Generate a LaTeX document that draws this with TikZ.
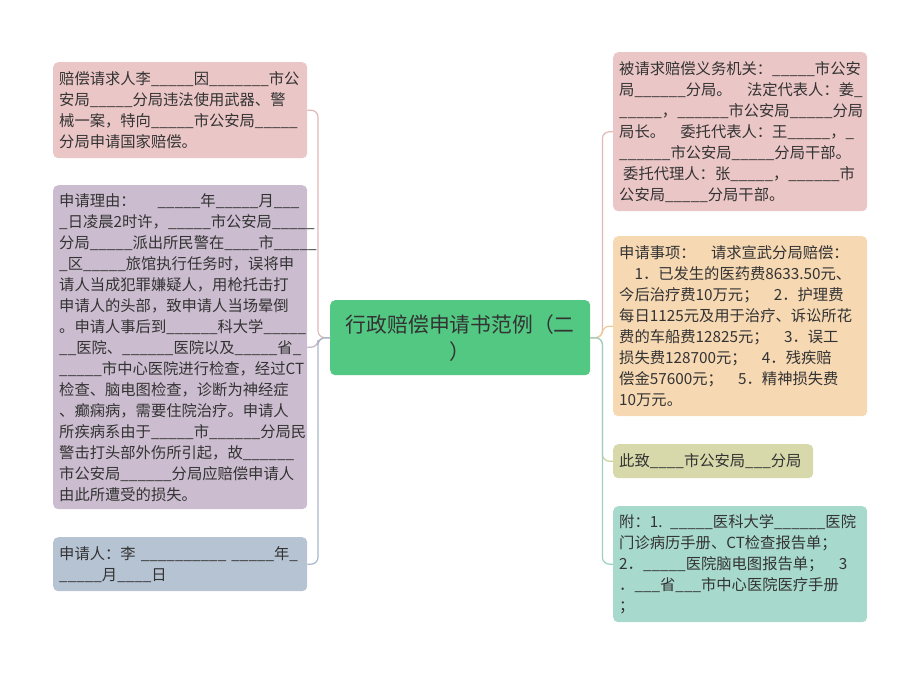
\documentclass[tikz,border=0pt]{standalone}
\usepackage{fontspec}
\setmainfont{Noto Sans CJK SC}
\usetikzlibrary{positioning}
\definecolor{txt}{HTML}{333333}
\definecolor{rootfill}{HTML}{52C882}
\definecolor{pinkfill}{HTML}{EBC6C6}
\definecolor{pinkline}{HTML}{E3B8B8}
\definecolor{lilacfill}{HTML}{CBBDCF}
\definecolor{lilacline}{HTML}{C2B3C6}
\definecolor{greyfill}{HTML}{B5C3D3}
\definecolor{greyline}{HTML}{A9B8C9}
\definecolor{orangefill}{HTML}{F6D8B3}
\definecolor{orangeline}{HTML}{EFCB9C}
\definecolor{olivefill}{HTML}{D7D9AA}
\definecolor{oliveline}{HTML}{CDD09C}
\definecolor{tealfill}{HTML}{A8D9CD}
\definecolor{tealline}{HTML}{9BD0C2}
\tikzset{
x=1pt, y=-1pt, % one unit is one pixel of the reference, y grows downwards
leaf/.style={anchor=north west, rounded corners=5pt, inner xsep=6pt, inner ysep=6pt,
  text width=242pt, align=left, text=txt, font=\fontsize{15.3}{21}\selectfont}, % every side box
topic/.style={anchor=north west, rounded corners=5pt, fill=rootfill, text=txt,
  minimum width=260pt, minimum height=75pt, align=center,
  font=\fontsize{20.8}{27}\selectfont}, % the middle box
link/.style={line width=1.2pt, rounded corners=7pt}, % the connectors
}

\begin{document}
\begin{tikzpicture}
\useasboundingbox (0,0) rectangle (920,675);

% middle
\node[topic] (root) at (330,300) {行政赔偿申请书范例（二\\）};
\coordinate (hubL) at ([xshift=-12pt]root.west);
\coordinate (hubR) at ([xshift=12pt]root.east);

% left side
\node[leaf, fill=pinkfill, minimum height=96pt] (claimant) at (53,62)
  {赔偿请求人李\_\_\_\_\_因\_\_\_\_\_\_\_市公\\安局\_\_\_\_\_分局违法使用武器、警\\械一案，特向\_\_\_\_\_市公安局\_\_\_\_\_\\分局申请国家赔偿。};
\node[leaf, fill=lilacfill, minimum height=324pt] (reason) at (53,185)
  {申请理由：\hspace*{22pt}\_\_\_\_\_年\_\_\_\_\_月\_\_\_\\\_日凌晨2时许，\_\_\_\_\_市公安局\_\_\_\_\_\\分局\_\_\_\_\_派出所民警在\_\_\_\_市\_\_\_\_\_\\\_区\_\_\_\_\_旅馆执行任务时，误将申\\请人当成犯罪嫌疑人，用枪托击打\\申请人的头部，致申请人当场晕倒\\。申请人事后到\_\_\_\_\_\_科大学\_\_\_\_\_\\\_\_医院、\_\_\_\_\_\_医院以及\_\_\_\_\_省\_\\\_\_\_\_\_市中心医院进行检查，经过CT\\检查、脑电图检查，诊断为神经症\\、癫痫病，需要住院治疗。申请人\\所疾病系由于\_\_\_\_\_市\_\_\_\_\_\_分局民\\警击打头部外伤所引起，故\_\_\_\_\_\_\\市公安局\_\_\_\_\_\_分局应赔偿申请人\\由此所遭受的损失。};
\node[leaf, fill=greyfill, minimum height=54pt] (sign) at (53,537)
  {申请人：李~\_\_\_\_\_\_\_\_\_\_~\_\_\_\_\_年\_\\\_\_\_\_\_月\_\_\_\_日};

% right side
\node[leaf, fill=pinkfill, minimum height=159pt] (respondent) at (613,52)
  {被请求赔偿义务机关：\_\_\_\_\_市公安\\局\_\_\_\_\_\_分局。　法定代表人：姜\_\\\_\_\_\_\_，\_\_\_\_\_\_市公安局\_\_\_\_\_分局\\局长。　委托代表人：王\_\_\_\_\_，\_\\\_\_\_\_\_\_市公安局\_\_\_\_\_分局干部。\\\hspace*{4pt}委托代理人：张\_\_\_\_\_，\_\_\_\_\_\_市\\公安局\_\_\_\_\_分局干部。};
\node[leaf, fill=orangefill, minimum height=180pt] (claims) at (613,236)
  {申请事项：　请求宣武分局赔偿：\\　1．已发生的医药费8633.50元、\\今后治疗费10万元；　2．护理费\\每日1125元及用于治疗、诉讼所花\\费的车船费12825元；　3．误工\\损失费128700元；　4．残疾赔\\偿金57600元；　5．精神损失费\\10万元。};
\node[leaf, fill=olivefill, text width=188pt, minimum height=34pt] (to) at (613,444)
  {此致\_\_\_\_市公安局\_\_\_分局};
\node[leaf, fill=tealfill, minimum height=116pt] (annex) at (613,506)
  {附：1. \_\_\_\_\_医科大学\_\_\_\_\_\_医院\\门诊病历手册、CT检查报告单；\\2．\_\_\_\_\_医院脑电图报告单；　3\\．\_\_\_省\_\_\_市中心医院医疗手册\\；};

% connectors
\draw[link, pinkline] (root.west) -- (hubL) |- (claimant.east);
\draw[link, lilacline] (root.west) -- (hubL) |- (reason.east);
\draw[link, greyline] (root.west) -- (hubL) |- (sign.east);
\draw[link, pinkline] (root.east) -- (hubR) |- (respondent.west);
\draw[link, orangeline] (root.east) -- (hubR) |- (claims.west);
\draw[link, oliveline] (root.east) -- (hubR) |- (to.west);
\draw[link, tealline] (root.east) -- (hubR) |- (annex.west);
\end{tikzpicture}
\end{document}
